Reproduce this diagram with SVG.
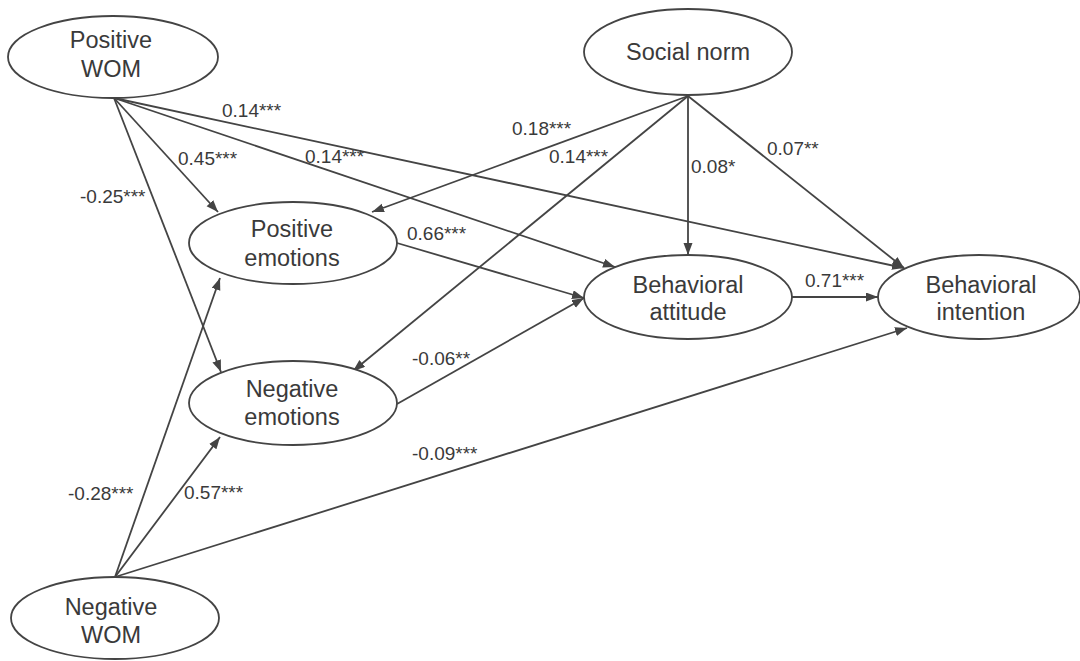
<svg xmlns="http://www.w3.org/2000/svg" width="1080" height="661" viewBox="0 0 1080 661">
<style>
.node ellipse{fill:#fff;stroke:#444;stroke-width:1.8}
.node text{font-family:"Liberation Sans",Arial,sans-serif;font-size:23.5px;fill:#3a3a3a;text-anchor:middle}
.edge{stroke:#444;stroke-width:1.8;fill:none;marker-end:url(#ah)}
.lbl{font-family:"Liberation Sans",Arial,sans-serif;font-size:19px;fill:#3a3a3a}
</style>
<defs>
<marker id="ah" markerUnits="userSpaceOnUse" markerWidth="13" markerHeight="10" refX="12" refY="4.5" orient="auto">
<path d="M0,0 L12,4.5 L0,9 z" fill="#444"/>
</marker>
</defs>
<rect width="1080" height="661" fill="#fff"/>
<g id="connectors">
<line class="edge" x1="114" y1="98" x2="218" y2="212"/>
<line class="edge" x1="114" y1="98" x2="221" y2="372"/>
<line class="edge" x1="114" y1="98" x2="615" y2="267"/>
<line class="edge" x1="114" y1="98" x2="904" y2="268"/>
<line class="edge" x1="688" y1="96" x2="372" y2="212"/>
<line class="edge" x1="688" y1="96" x2="353" y2="371"/>
<line class="edge" x1="688" y1="96" x2="688" y2="255"/>
<line class="edge" x1="688" y1="96" x2="904" y2="268"/>
<line class="edge" x1="397" y1="243" x2="584" y2="298"/>
<line class="edge" x1="397" y1="404" x2="584" y2="298"/>
<line class="edge" x1="792" y1="297" x2="878" y2="297"/>
<line class="edge" x1="115" y1="577" x2="220" y2="278"/>
<line class="edge" x1="115" y1="577" x2="220" y2="437"/>
<line class="edge" x1="115" y1="577" x2="907" y2="328"/>
</g>
<g id="labels">
<text class="lbl" x="178" y="165">0.45***</text>
<text class="lbl" x="80" y="203">-0.25***</text>
<text class="lbl" x="305" y="163">0.14***</text>
<text class="lbl" x="222" y="117">0.14***</text>
<text class="lbl" x="512" y="135">0.18***</text>
<text class="lbl" x="549" y="163">0.14***</text>
<text class="lbl" x="691" y="173">0.08*</text>
<text class="lbl" x="767" y="155">0.07**</text>
<text class="lbl" x="407" y="240">0.66***</text>
<text class="lbl" x="412" y="365">-0.06**</text>
<text class="lbl" x="805" y="287">0.71***</text>
<text class="lbl" x="68" y="500">-0.28***</text>
<text class="lbl" x="184" y="499">0.57***</text>
<text class="lbl" x="412" y="460">-0.09***</text>
</g>
<g id="positive-wom" class="node">
<ellipse cx="113" cy="57" rx="105" ry="41"/>
<text x="111" y="48">Positive</text>
<text x="111" y="77">WOM</text>
</g>
<g id="social-norm" class="node">
<ellipse cx="688" cy="52" rx="104" ry="43"/>
<text x="688" y="60">Social norm</text>
</g>
<g id="positive-emotions" class="node">
<ellipse cx="293" cy="243" rx="104" ry="41"/>
<text x="292" y="237">Positive</text>
<text x="292" y="266">emotions</text>
</g>
<g id="negative-emotions" class="node">
<ellipse cx="293" cy="403" rx="104" ry="42"/>
<text x="292" y="397">Negative</text>
<text x="292" y="425">emotions</text>
</g>
<g id="behavioral-attitude" class="node">
<ellipse cx="688" cy="297" rx="104" ry="42"/>
<text x="688" y="293">Behavioral</text>
<text x="688" y="320">attitude</text>
</g>
<g id="behavioral-intention" class="node">
<ellipse cx="979" cy="297" rx="101" ry="42"/>
<text x="981" y="293">Behavioral</text>
<text x="981" y="320">intention</text>
</g>
<g id="negative-wom" class="node">
<ellipse cx="115" cy="618" rx="104" ry="41"/>
<text x="111" y="615">Negative</text>
<text x="111" y="643">WOM</text>
</g>
</svg>
